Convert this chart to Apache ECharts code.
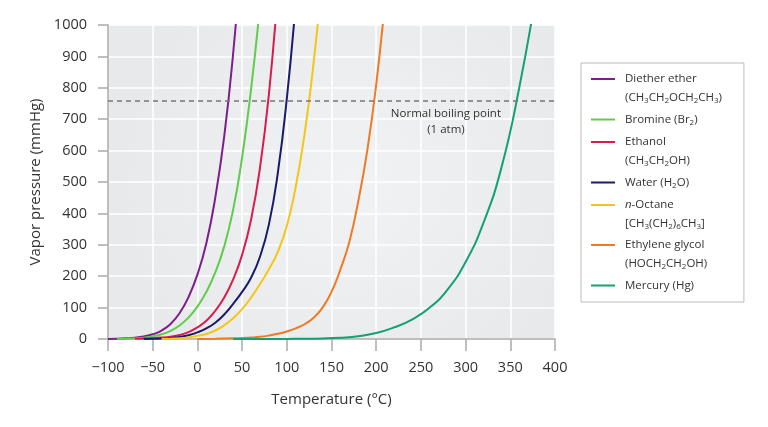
<!DOCTYPE html>
<html>
<head>
<meta charset="utf-8">
<script src="https://cdn.jsdelivr.net/npm/echarts@6/dist/echarts.min.js"></script>
<style>
html,body{margin:0;padding:0;background:#fff;}
#chart{width:768px;height:427px;}
</style>
</head>
<body>
<div id="chart"></div>
<script>
// ---- Data ----
const xTicks = [-100, -50, 0, 50, 100, 150, 200, 250, 300, 350, 400];
const yTicks = [0, 100, 200, 300, 400, 500, 600, 700, 800, 900, 1000];

const names = ['Diether ether', 'Bromine', 'Ethanol', 'Water', 'n-Octane', 'Ethylene glycol', 'Mercury'];
const legendLabels = [
  'Diether ether\n(CH{s|3}CH{s|2}OCH{s|2}CH{s|3})',
  'Bromine (Br{s|2})',
  'Ethanol\n(CH{s|3}CH{s|2}OH)',
  'Water (H{s|2}O)',
  '{i|n}-Octane\n[CH{s|3}(CH{s|2}){s|6}CH{s|3}]',
  'Ethylene glycol\n(HOCH{s|2}CH{s|2}OH)',
  'Mercury (Hg)'
];

// temperature (°C) and vapor pressure (mmHg) pairs
const etherT = [-100, -90, -80, -70, -60, -50, -40, -30, -20, -10, 0, 10, 20, 30, 40, 50];
const etherP = [0.3, 0.8, 2, 4, 8, 15, 27, 48, 82, 133, 205, 305, 450, 645, 910, 1250];

const bromT = [-90, -80, -70, -60, -50, -40, -30, -20, -10, 0, 10, 20, 30, 40, 50, 60, 70];
const bromP = [0.4, 1, 2.1, 4.3, 8.3, 15, 26, 43, 68, 103, 150, 212, 295, 412, 578, 795, 1060];

const ethT = [-70, -60, -50, -40, -30, -20, -10, 0, 10, 20, 30, 40, 50, 60, 70, 80, 90];
const ethP = [0.5, 1.2, 2.4, 4.4, 7.5, 12.5, 22, 37, 58, 90, 132, 190, 268, 380, 545, 780, 1110];

const watT = [-60, -50, -40, -30, -20, -10, 0, 10, 20, 30, 40, 50, 60, 70, 80, 90, 100, 110];
const watP = [0.3, 0.8, 1.8, 3.5, 6.5, 12, 21, 34, 52, 78, 112, 150, 195, 262, 365, 530, 765, 1070];

const octT = [-40, -30, -20, -10, 0, 10, 20, 30, 40, 50, 60, 70, 80, 90, 100, 110, 120, 130, 140];
const octP = [0.5, 1, 2.2, 5, 10, 16, 27, 44, 66, 95, 132, 175, 222, 278, 360, 485, 655, 880, 1160];

const egT = [0, 20, 40, 50, 60, 70, 80, 90, 100, 110, 120, 130, 140, 150, 160, 170, 180, 190, 200, 210];
const egP = [0.3, 0.8, 2, 3, 4.6, 7, 11, 16.5, 24, 34, 47, 68, 100, 150, 222, 310, 440, 600, 810, 1080];

const hgT = [40, 60, 80, 100, 120, 140, 160, 180, 200, 220, 240, 260, 280, 300, 320, 340, 360, 380];
const hgP = [0, 0.05, 0.1, 0.3, 0.8, 1.9, 4.2, 9, 19, 37, 62, 100, 158, 245, 370, 545, 800, 1120];

const boilingP = 760;
const noteT = 278;

const colors = ['#7d1e8c', '#5fcc4a', '#d81c50', '#1b1a6b', '#f5c518', '#ef7a23', '#12a173'];
const seriesT = [etherT, bromT, ethT, watT, octT, egT, hgT];
const seriesP = [etherP, bromP, ethP, watP, octP, egP, hgP];

// ---- Chart ----
const FONT = "'Open Sans', 'Noto Sans', 'DejaVu Sans', sans-serif";
const chart = echarts.init(document.getElementById('chart'), null, {renderer: 'canvas'});

const iconTwo = 'path://M0,0h24v2H0z M29,20h0.01v0.01h-0.01z';
const iconOne = 'path://M0,9h24v2H0z M0,0h0.01v0.01H0z M29,20h0.01v0.01h-0.01z';

const series = names.map((n, i) => {
  const s = {
    name: n,
    type: 'line',
    data: seriesT[i].map((t, k) => [t, seriesP[i][k]]),
    showSymbol: false,
    symbol: 'none',
    smooth: 0.5,
    lineStyle: {color: colors[i], width: 2},
    itemStyle: {color: colors[i]},
    clip: true,
    z: 3
  };
  if (i === 0) {
    s.markLine = {
      silent: true,
      symbol: ['none', 'none'],
      label: {show: false},
      lineStyle: {color: '#777', type: [5, 4], width: 1.5},
      data: [{yAxis: boilingP}]
    };
    s.markPoint = {
      silent: true,
      symbol: 'circle',
      symbolSize: 0,
      itemStyle: {color: 'rgba(0,0,0,0)'},
      label: {
        show: true,
        formatter: 'Normal boiling point\n(1 atm)',
        position: 'inside',
        offset: [0, 21],
        fontFamily: FONT,
        fontSize: 11.5,
        lineHeight: 16,
        color: '#333',
        align: 'center'
      },
      data: [{coord: [noteT, boilingP]}]
    };
  }
  return s;
});

const option = {
  animation: false,
  backgroundColor: '#fff',
  textStyle: {fontFamily: FONT},
  grid: {
    left: 108, right: 213, top: 25, bottom: 88,
    show: true,
    backgroundColor: new echarts.graphic.RadialGradient(0.55, 0.5, 0.75, [
      {offset: 0, color: '#f1f2f3'},
      {offset: 1, color: '#e7e9ea'}
    ]),
    borderWidth: 0
  },
  xAxis: {
    type: 'value',
    min: xTicks[0], max: xTicks[xTicks.length - 1], interval: xTicks[1] - xTicks[0],
    name: 'Temperature (°C)',
    nameLocation: 'middle',
    nameGap: 53,
    nameTextStyle: {fontSize: 15, color: '#333', fontFamily: FONT},
    axisLine: {show: true, onZero: false, lineStyle: {color: '#aaa', width: 1.5}},
    axisTick: {show: true, length: 12, lineStyle: {color: '#aaa', width: 1.5}},
    splitLine: {show: true, lineStyle: {color: '#fff', width: 1.5}},
    axisLabel: {
      color: '#333', fontSize: 14.5, margin: 21, fontFamily: FONT,
      formatter: v => (v < 0 ? '\u2212' + Math.abs(v) : String(v))
    }
  },
  yAxis: {
    type: 'value',
    min: yTicks[0], max: yTicks[yTicks.length - 1], interval: yTicks[1] - yTicks[0],
    name: 'Vapor pressure (mmHg)',
    nameLocation: 'middle',
    nameGap: 59,
    nameTextStyle: {fontSize: 15, color: '#333', fontFamily: FONT},
    axisLine: {show: true, onZero: false, lineStyle: {color: '#aaa', width: 1.5}},
    axisTick: {show: true, length: 10, lineStyle: {color: '#aaa', width: 1.5}},
    splitLine: {show: true, lineStyle: {color: '#fff', width: 1.5}},
    axisLabel: {color: '#333', fontSize: 14.5, margin: 21, fontFamily: FONT,
      formatter: v => String(v)}
  },
  legend: {
    orient: 'vertical',
    left: 581,
    top: 63,
    align: 'left',
    selectedMode: false,
    backgroundColor: '#fff',
    borderColor: '#bbb',
    borderWidth: 1,
    padding: [6.5, 22, 6.5, 10],
    itemGap: 3,
    itemWidth: 29,
    itemHeight: 20,
    itemStyle: {borderWidth: 0},
    lineStyle: {width: 0},
    textStyle: {
      fontFamily: FONT, fontSize: 11.5, lineHeight: 18.5, color: '#333',
      rich: {
        i: {fontStyle: 'italic', fontFamily: FONT, fontSize: 11.5, lineHeight: 18.5, color: '#333'},
        s: {fontFamily: FONT, fontSize: 8, color: '#333', verticalAlign: 'bottom', padding: [0, 0, 2, 0]}
      }
    },
    formatter: name => legendLabels[names.indexOf(name)],
    data: names.map((n, i) => ({name: n, icon: legendLabels[i].indexOf('\n') >= 0 ? iconTwo : iconOne}))
  },
  series: series
};

chart.setOption(option);
</script>
</body>
</html>
